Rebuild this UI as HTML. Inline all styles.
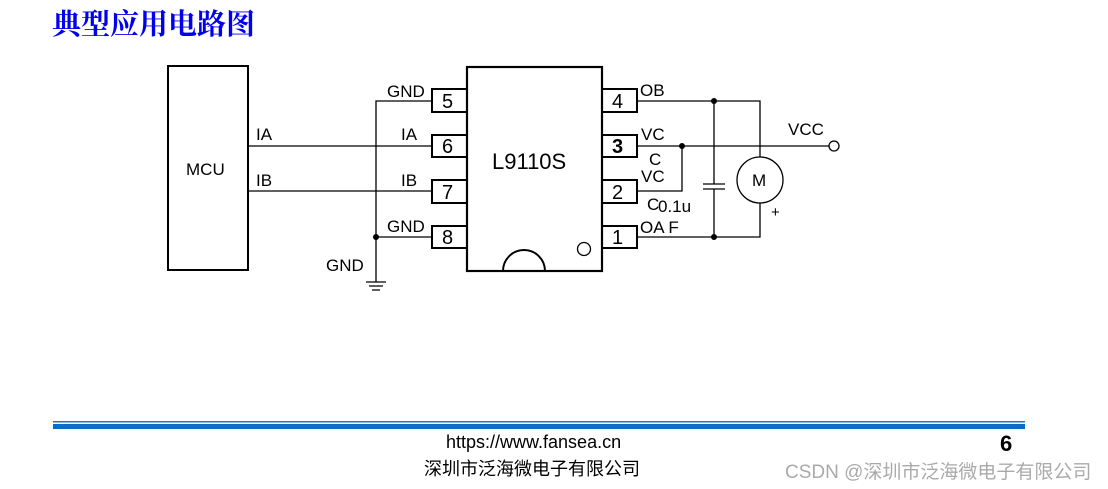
<!DOCTYPE html>
<html><head><meta charset="utf-8"><style>
body{margin:0;width:1108px;height:489px;background:#fff;overflow:hidden;position:relative;font-family:"Liberation Sans","Noto Sans CJK SC",sans-serif}
.t{position:absolute;white-space:nowrap}
</style></head><body>
<div class="t" style="left:52px;top:2px;font-size:29px;color:#0000ee;font-family:'Noto Serif CJK SC','Noto Sans CJK SC',serif;font-weight:bold">典型应用电路图</div>
<svg width="1108" height="489" style="position:absolute;left:0;top:0" font-family="Liberation Sans, sans-serif">
<g stroke="#000" fill="none" stroke-width="1.3">
<rect x="168" y="66" width="80" height="204" stroke-width="2"/>
<rect x="467" y="67" width="135" height="204" stroke-width="2.2"/>
<g stroke-width="2">
<rect x="432" y="89" width="35" height="23"/><rect x="432" y="135" width="35" height="22"/>
<rect x="432" y="180" width="35" height="23"/><rect x="432" y="226" width="35" height="22"/>
<rect x="602" y="89" width="35" height="23"/><rect x="602" y="135" width="35" height="22"/>
<rect x="602" y="180" width="35" height="23"/><rect x="602" y="226" width="35" height="22"/>
</g>
<path d="M503 271 A21 21 0 0 1 545 271" stroke-width="2"/>
<circle cx="584" cy="249" r="6.5"/>
<path d="M432 101H376V282M432 237H376M432 146H248M432 191H248"/>
<path d="M366 282H386M369 286H383M372 290H380"/>
<path d="M637 101H760V157M760 203V237H637M637 146H829M682 146V191H637"/>
<path d="M714 101V184M714 189V237M703 184H725M703 189H725"/>
<circle cx="760" cy="180" r="23"/>
<circle cx="834" cy="146" r="5"/>
</g>
<g fill="#000"><circle cx="376" cy="237" r="3"/><circle cx="714" cy="101" r="3"/><circle cx="714" cy="237" r="3"/><circle cx="682" cy="146" r="3"/></g>
<g font-size="17" fill="#000">
<text x="186" y="175">MCU</text>
<text x="256" y="140">IA</text><text x="256" y="186">IB</text>
<text x="387" y="97">GND</text><text x="401" y="140">IA</text><text x="401" y="186">IB</text><text x="387" y="232">GND</text>
<text x="326" y="271">GND</text>
<text x="640" y="96">OB</text><text x="641" y="140">VC</text><text x="649" y="165">C</text><text x="641" y="182">VC</text>
<text x="647" y="210">C</text><text x="658" y="212">0.1u</text><text x="640" y="233">OA F</text>
<text x="788" y="135">VCC</text><text x="752" y="186">M</text><text x="771" y="217" font-size="15">+</text>
<text x="442" y="108" font-size="20">5</text><text x="442" y="153" font-size="20">6</text><text x="442" y="199" font-size="20">7</text><text x="442" y="244" font-size="20">8</text>
<text x="612" y="108" font-size="20">4</text><text x="612" y="153" font-size="20" font-weight="bold">3</text><text x="612" y="199" font-size="20">2</text><text x="612" y="244" font-size="20">1</text>
<text x="492" y="169" font-size="22">L9110S</text>
</g>
<rect x="53" y="421" width="972" height="1.5" fill="#1a76c9"/>
<rect x="53" y="424" width="972" height="5" fill="#0a6cc4"/>
</svg>
<div class="t" style="left:446px;top:432px;font-size:18px">https://www.fansea.cn</div>
<div class="t" style="left:424px;top:455px;font-size:18px">深圳市泛海微电子有限公司</div>
<div class="t" style="left:1000px;top:431px;font-size:22px;font-weight:bold">6</div>
<div class="t" style="left:785px;top:457px;font-size:19px;color:#aaa">CSDN @深圳市泛海微电子有限公司</div>
</body></html>
